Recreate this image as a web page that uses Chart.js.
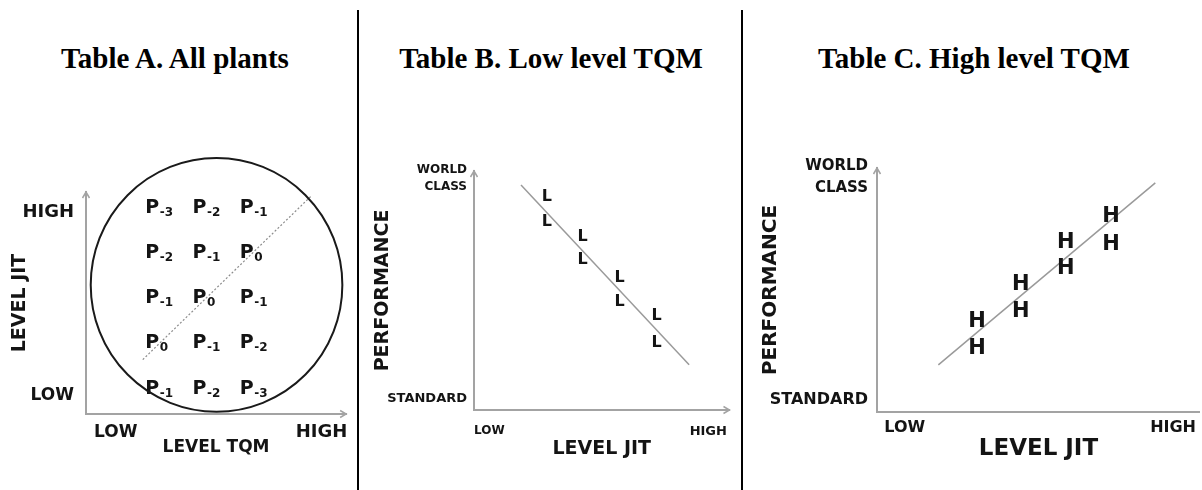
<!DOCTYPE html>
<html>
<head>
<meta charset="utf-8">
<script src="https://cdn.jsdelivr.net/npm/chart.js@4/dist/chart.umd.min.js"></script>
<style>
  body { margin: 0; background: #fff; width: 1202px; height: 490px; position: relative; overflow: hidden; }
  .panel { position: absolute; top: 0; height: 490px; }
  .title { position: absolute; top: 44px; font: bold 29px "Liberation Serif", serif; color: #000;
           line-height: 1; white-space: nowrap; transform: translateX(-50%); }
  .divider { position: absolute; top: 10px; width: 2px; height: 480px; background: #000; }
</style>
</head>
<body>
<div class="title" style="left:175px">Table A. All plants</div>
<div class="title" style="left:551px">Table B. Low level TQM</div>
<div class="title" style="left:974px">Table C. High level TQM</div>
<div class="divider" style="left:357px"></div>
<div class="divider" style="left:741px"></div>

<div class="panel" style="left:0;width:356px"><canvas id="chartA"></canvas></div>
<div class="panel" style="left:359px;width:382px"><canvas id="chartB"></canvas></div>
<div class="panel" style="left:743px;width:459px"><canvas id="chartC"></canvas></div>

<script>
// ---- Table A: all plants (grid of P labels over level TQM x level JIT)
const tqmLevels = [1, 2, 3];
const jitLevels = [1, 2, 3, 4, 5];
// subscripts, one row per JIT level from low to high
const plantRows = [
    [-1, -2, -3],
    [0, -1, -2],
    [-1, 0, -1],
    [-2, -1, 0],
    [-3, -2, -1],
];
const diagonalTqm = [0.8, 4.35];
const diagonalJit = [1.6, 5.2];
const plantCircle = { tqm: 2.36, jit: 3.25, tqmRadius: 2.66, jitRadius: 2.8 };
const aTqmTicks = [0.23, 4.58];
const aJitTicks = [0.8, 4.85];
const levelLabels = ["LOW", "HIGH"];

// ---- Table B: low level TQM
const lowJit = [2.85, 4.25, 5.7, 7.15];
const lowPerfUpper = [9.0, 7.3, 5.6, 4.0];
const lowPerfLower = [7.95, 6.35, 4.6, 2.9];
const lowTrendJit = [1.84, 8.42];
const lowTrendPerf = [9.41, 1.89];

// ---- Table C: high level TQM
const highJit = [3.1, 4.45, 5.85, 7.25];
const highPerfUpper = [3.8, 5.3, 7.05, 8.1];
const highPerfLower = [2.7, 4.2, 5.95, 6.95];
const highTrendJit = [1.9, 8.62];
const highTrendPerf = [1.93, 9.39];

const bJitTicks = [0.6, 9.17];
const bPerfTicks = [0.46, 9.7];
const cJitTicks = [0.86, 9.17];
const cPerfTicks = [0.49, 9.63];
const perfLabels = ["STANDARD", ["WORLD", "CLASS"]];

const AXIS_GREY = "#a3a3a3";
const LINE_GREY = "#9a9a9a";
const INK = "#141414";
const FONT = '"DejaVu Sans", sans-serif';

function points(xs, ys) {
    return xs.map((x, i) => ({ x: x, y: ys[i] }));
}

// draws the letters (P with subscript, L, H) at each point of a dataset
const letterPlugin = {
    id: "letters",
    afterDatasetsDraw(chart) {
        const ctx = chart.ctx;
        chart.data.datasets.forEach((ds, i) => {
            if (!ds.letter) return;
            const meta = chart.getDatasetMeta(i);
            ctx.save();
            ctx.fillStyle = INK;
            ctx.textBaseline = "alphabetic";
            meta.data.forEach((pt, j) => {
                const cap = ds.letterSize * 0.73;
                ctx.font = "bold " + ds.letterSize + "px " + FONT;
                ctx.textAlign = "center";
                ctx.fillText(ds.letter, pt.x, pt.y + cap / 2);
                if (ds.subs) {
                    ctx.font = "bold 12px " + FONT;
                    ctx.textAlign = "left";
                    ctx.fillText(String(ds.subs[j]), pt.x + 7.5, pt.y + cap / 2 + 3);
                }
            });
            ctx.restore();
        });
    },
};

// small open arrow heads at the end of both axes
const arrowPlugin = {
    id: "axisArrows",
    afterDraw(chart, args, opts) {
        const { left, right, top, bottom } = chart.chartArea;
        const ctx = chart.ctx;
        ctx.save();
        ctx.strokeStyle = AXIS_GREY;
        ctx.lineWidth = 1.5;
        ctx.beginPath();
        ctx.moveTo(left - 3.5, top + 6);
        ctx.lineTo(left, top);
        ctx.lineTo(left + 3.5, top + 6);
        if (opts.xArrow !== false) {
            ctx.moveTo(right - 6, bottom - 3.5);
            ctx.lineTo(right, bottom);
            ctx.lineTo(right - 6, bottom + 3.5);
        }
        ctx.stroke();
        ctx.restore();
    },
};

// the big circle round the plant grid in table A
const circlePlugin = {
    id: "plantCircle",
    afterDatasetsDraw(chart, args, opts) {
        if (!opts.circle) return;
        const c = opts.circle;
        const xs = chart.scales.x, ys = chart.scales.y;
        const cx = xs.getPixelForValue(c.tqm);
        const cy = ys.getPixelForValue(c.jit);
        const rx = xs.getPixelForValue(c.tqm + c.tqmRadius) - cx;
        const ry = cy - ys.getPixelForValue(c.jit + c.jitRadius);
        const ctx = chart.ctx;
        ctx.save();
        ctx.strokeStyle = "#1a1a1a";
        ctx.lineWidth = 2;
        ctx.beginPath();
        ctx.ellipse(cx, cy, rx, ry, 0, 0, Math.PI * 2);
        ctx.stroke();
        ctx.restore();
    },
};

function makeScales(cfg) {
    return {
        x: {
            type: "linear",
            min: cfg.xMin,
            max: cfg.xMax,
            grid: { display: false, drawTicks: false },
            border: { display: true, color: AXIS_GREY, width: 2 },
            afterBuildTicks: (s) => { s.ticks = cfg.xTicks.map((v) => ({ value: v })); },
            ticks: {
                padding: cfg.xTickPad,
                color: INK,
                maxRotation: 0,
                autoSkip: false,
                font: (ctx) => ({ family: FONT, weight: "bold", size: cfg.xTickSizes[ctx.index] }),
                callback: (v, i) => levelLabels[i],
            },
            title: {
                display: true,
                text: cfg.xTitle,
                color: INK,
                padding: 0,
                font: { family: FONT, weight: "bold", size: cfg.xTitleSize },
            },
            afterFit: (s) => { s.height = cfg.xHeight; },
        },
        y: {
            type: "linear",
            min: cfg.yMin,
            max: cfg.yMax,
            grid: { display: false, drawTicks: false },
            border: { display: true, color: AXIS_GREY, width: 2 },
            afterBuildTicks: (s) => { s.ticks = cfg.yTicks.map((v) => ({ value: v })); },
            ticks: {
                padding: cfg.yTickPad,
                color: INK,
                autoSkip: false,
                font: (ctx) => ({
                    family: FONT,
                    weight: "bold",
                    size: cfg.yTickSizes[ctx.index],
                    lineHeight: 1.45,
                }),
                callback: (v, i) => cfg.yLabels[i],
            },
            title: {
                display: true,
                text: cfg.yTitle,
                color: INK,
                padding: { top: cfg.yTitlePad, bottom: 0 },
                font: { family: FONT, weight: "bold", size: cfg.yTitleSize },
            },
            afterFit: (s) => { s.width = cfg.yWidth; },
        },
    };
}

function baseOptions(scales, padding, extraPlugins) {
    return {
        responsive: true,
        maintainAspectRatio: false,
        animation: false,
        events: [],
        layout: { padding: padding },
        scales: scales,
        plugins: Object.assign({
            legend: { display: false },
            tooltip: { enabled: false },
        }, extraPlugins),
    };
}

// ---- Chart A
const plantPoints = [];
const plantSubs = [];
jitLevels.forEach((jit, r) => {
    tqmLevels.forEach((tqm, c) => {
        plantPoints.push({ x: tqm, y: jit });
        plantSubs.push(plantRows[r][c]);
    });
});

new Chart(document.getElementById("chartA"), {
    type: "scatter",
    data: {
        datasets: [
            {
                data: points(diagonalTqm, diagonalJit),
                showLine: true,
                borderColor: "#8c8c8c",
                borderWidth: 1.2,
                borderDash: [2, 2],
                pointRadius: 0,
                clip: false,
            },
            {
                data: plantPoints,
                pointRadius: 0,
                letter: "P",
                letterSize: 19,
                subs: plantSubs,
                clip: false,
            },
        ],
    },
    options: baseOptions(
        makeScales({
            xMin: -0.4, xMax: 5.1, xTicks: aTqmTicks, xTickPad: 8, xTickSizes: [17, 18],
            xTitle: "LEVEL TQM", xTitleSize: 17, xHeight: 44,
            yMin: 0.4, yMax: 5.3, yTicks: aJitTicks, yLabels: levelLabels, yTickPad: 12,
            yTickSizes: [17, 18], yTitle: "LEVEL JIT", yTitleSize: 19, yTitlePad: 9, yWidth: 86,
        }),
        { left: 0, right: 7, top: 192, bottom: 32 },
        { plantCircle: { circle: plantCircle }, axisArrows: {} }
    ),
    plugins: [letterPlugin, arrowPlugin, circlePlugin],
});

// ---- Chart B
new Chart(document.getElementById("chartB"), {
    type: "scatter",
    data: {
        datasets: [
            {
                data: points(lowTrendJit, lowTrendPerf),
                showLine: true,
                borderColor: LINE_GREY,
                borderWidth: 1.5,
                pointRadius: 0,
                clip: false,
            },
            { data: points(lowJit, lowPerfUpper), pointRadius: 0, letter: "L", letterSize: 16, clip: false },
            { data: points(lowJit, lowPerfLower), pointRadius: 0, letter: "L", letterSize: 16, clip: false },
        ],
    },
    options: baseOptions(
        makeScales({
            xMin: 0, xMax: 10, xTicks: bJitTicks, xTickPad: 14, xTickSizes: [12, 13],
            xTitle: "LEVEL JIT", xTitleSize: 19, xHeight: 50,
            yMin: 0, yMax: 10, yTicks: bPerfTicks, yLabels: perfLabels, yTickPad: 7,
            yTickSizes: [13, 12], yTitle: "PERFORMANCE", yTitleSize: 19, yTitlePad: 13, yWidth: 115,
        }),
        { left: 0, right: 1, top: 171, bottom: 30 },
        { axisArrows: {} }
    ),
    plugins: [letterPlugin, arrowPlugin],
});

// ---- Chart C
new Chart(document.getElementById("chartC"), {
    type: "scatter",
    data: {
        datasets: [
            {
                data: points(highTrendJit, highTrendPerf),
                showLine: true,
                borderColor: LINE_GREY,
                borderWidth: 1.5,
                pointRadius: 0,
                clip: false,
            },
            { data: points(highJit, highPerfUpper), pointRadius: 0, letter: "H", letterSize: 21, clip: false },
            { data: points(highJit, highPerfLower), pointRadius: 0, letter: "H", letterSize: 21, clip: false },
        ],
    },
    options: baseOptions(
        makeScales({
            xMin: 0, xMax: 10, xTicks: cJitTicks, xTickPad: 6, xTickSizes: [16, 16],
            xTitle: "LEVEL JIT", xTitleSize: 23, xHeight: 51,
            yMin: 0, yMax: 10, yTicks: cPerfTicks, yLabels: perfLabels, yTickPad: 9,
            yTickSizes: [16, 15], yTitle: "PERFORMANCE", yTitleSize: 20, yTitlePad: 16, yWidth: 134,
        }),
        { left: 0, right: 0, top: 168, bottom: 27 },
        { axisArrows: { xArrow: false } }
    ),
    plugins: [letterPlugin, arrowPlugin],
});
</script>
</body>
</html>
